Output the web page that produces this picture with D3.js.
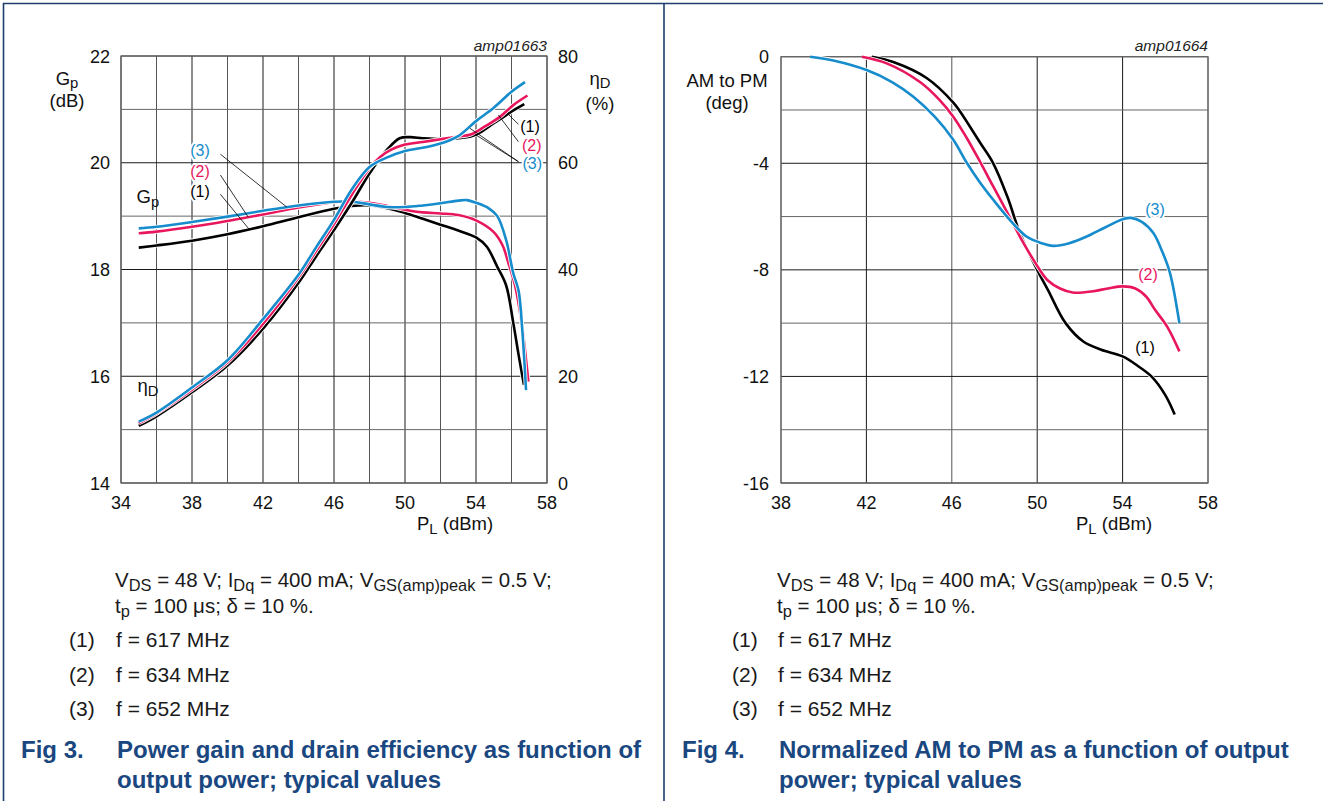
<!DOCTYPE html>
<html>
<head>
<meta charset="utf-8">
<title>Gain, efficiency and AM to PM</title>
<script src="https://d3js.org/d3.v7.min.js"></script>
<style>
  body { margin: 0; background: #fff; }
  svg text { font-family: Arial, "Liberation Sans", sans-serif; }
  .tick { font-size: 18px; fill: #111; }
  .title { font-size: 18.5px; fill: #111; }
  .code { font-size: 15.5px; font-style: italic; fill: #222; }
  .note { font-size: 20.5px; fill: #1a1a1a; }
  .note-f { font-size: 21px; fill: #1a1a1a; }
  .fig { font-size: 24px; font-weight: bold; fill: #1a4780; }
  .lab { font-size: 16px; paint-order: stroke; stroke: #fff; stroke-width: 4px; stroke-linejoin: round; }
  .leader { stroke: #000; stroke-width: 0.8; fill: none; }
</style>
</head>
<body>
<svg width="1323" height="801"></svg>
<script>
// series colours: (1) 617 MHz, (2) 634 MHz, (3) 652 MHz
const colors = ['#000000', '#e8175d', '#168ccc'];

// Fig 3 - power gain Gp (dB) vs PL (dBm)
const gp617 = [[35,18.41],[36,18.45],[38,18.54],[40,18.66],[42,18.81],[44,18.98],[46,19.14],[47,19.19],[48,19.2],[49,19.15],[50,19.06],[51,18.95],[52,18.84],[53,18.73],[54,18.6],[54.6,18.43],[55.2,18.05],[55.7,17.7],[56.1,17.0],[56.4,16.4],[56.7,15.84]];
const gp634 = [[35,18.68],[36,18.71],[38,18.8],[40,18.91],[42,19.03],[44,19.16],[46,19.26],[47,19.28],[48,19.25],[49,19.19],[50,19.12],[51,19.07],[52,19.05],[53,19.02],[54,18.92],[55,18.7],[55.5,18.45],[55.8,18.15],[56.2,17.7],[56.57,17.0],[56.95,15.9]];
const gp652 = [[35,18.77],[36,18.8],[38,18.89],[40,18.99],[42,19.1],[44,19.2],[46,19.27],[47,19.27],[48,19.22],[49,19.17],[50,19.17],[51,19.2],[52,19.24],[53,19.29],[53.5,19.3],[54,19.25],[54.7,19.15],[55.2,19.0],[55.7,18.55],[56.1,17.93],[56.4,17.6],[56.6,16.9],[56.82,15.74]];

// Fig 3 - drain efficiency (%) vs PL (dBm)
const eff617 = [[35,10.7],[36,12.5],[38,17.0],[40,22.0],[42,28.9],[44,37.5],[45,42.5],[46,47.4],[47,52.5],[48,58.0],[49,62.5],[49.7,64.6],[50.3,64.8],[51,64.6],[52,64.45],[53,64.6],[53.7,64.9],[54.3,65.8],[55,67.4],[55.6,68.7],[56.2,70.0],[56.72,71.0]];
const eff634 = [[35,11.2],[36,13.0],[38,17.5],[40,22.6],[42,29.8],[44,38.5],[45,43.5],[46,48.5],[47,54.0],[48,59.0],[48.6,61.1],[49.2,62.4],[50,63.4],[51,63.9],[52,64.4],[53,64.9],[53.7,65.3],[54.5,66.8],[55.35,68.6],[56.1,70.8],[56.9,72.6]];
const eff652 = [[35,11.5],[36,13.2],[38,17.9],[40,23.0],[42,30.7],[44,39.0],[45,44.2],[46,49.3],[47,55.0],[48,59.2],[49,61.0],[50,62.2],[51,62.8],[52,63.6],[53,65.0],[54,67.8],[55,70.3],[56,73.3],[56.76,75.1]];

// Fig 4 - normalized AM to PM (deg) vs PL (dBm)
const am617 = [[42.25,0],[43.26,-0.2],[44.82,-0.8],[46.07,-1.72],[46.38,-2.05],[47.32,-3.22],[47.94,-4.0],[48.6,-5.25],[49.19,-6.62],[50,-8.0],[50.5,-8.75],[51.33,-10.0],[52.16,-10.69],[53,-11.0],[54,-11.25],[54.7,-11.6],[55.35,-12.0],[56.0,-12.7],[56.44,-13.43]];
const am634 = [[41.78,0],[42.95,-0.25],[44.51,-0.95],[45.4,-1.6],[46.07,-2.25],[46.7,-3.05],[47.32,-3.94],[47.94,-4.87],[48.6,-5.85],[49.19,-6.75],[50,-7.85],[50.5,-8.4],[51.07,-8.7],[51.66,-8.85],[52.63,-8.8],[53.3,-8.7],[54,-8.62],[54.6,-8.7],[55.1,-9.0],[55.52,-9.5],[56.1,-10.15],[56.66,-11.06]];
const am652 = [[39.36,0],[40.5,-0.15],[42.01,-0.5],[43.2,-0.95],[44.2,-1.5],[45.2,-2.25],[46.07,-3.12],[46.7,-3.98],[47.32,-4.72],[47.94,-5.37],[48.8,-6.2],[49.5,-6.75],[50.2,-7.0],[50.75,-7.1],[51.5,-7.0],[52.32,-6.75],[53.2,-6.4],[54.0,-6.1],[54.4,-6.05],[54.9,-6.2],[55.44,-6.62],[55.85,-7.3],[56.22,-8.12],[56.66,-10.0]];

// ticks
const plTicks3 = [34, 38, 42, 46, 50, 54, 58];
const gpTicks = [14, 16, 18, 20, 22];
const effTicks = [0, 20, 40, 60, 80];
const plTicks4 = [38, 42, 46, 50, 54, 58];
const amTicks = [-16, -12, -8, -4, 0];

const noteLines = ['f = 617 MHz', 'f = 634 MHz', 'f = 652 MHz'];

const svg = d3.select('svg');

// page frame
svg.append('path')
  .attr('d', 'M3.5,801 V3.5 H1323 M664,3.5 V801')
  .attr('fill', 'none').attr('stroke', '#1c3f6e').attr('stroke-width', 1.6);

// text with subscripts: parts are strings or [sub] arrays
function rich(g, x, y, parts, cls, anchor, subDy) {
  const t = g.append('text').attr('x', x).attr('y', y).attr('class', cls)
    .attr('text-anchor', anchor || 'start');
  let shift = 0;
  parts.forEach(p => {
    const sub = Array.isArray(p);
    const target = sub ? subDy : 0;
    t.append('tspan').attr('dy', target - shift)
      .style('font-size', sub ? '0.8em' : null)
      .text(sub ? p[0] : p);
    shift = target;
  });
  return t;
}

function grid(g, x, y, xs, ys, xMajor, yMajor) {
  const [x0, x1] = x.range(), [y0, y1] = y.range();
  g.selectAll('.vg').data(xs).enter().append('line')
    .attr('x1', d => x(d)).attr('x2', d => x(d)).attr('y1', y0).attr('y2', y1)
    .attr('stroke', d => xMajor.includes(d) ? '#1a1a1a' : '#555').attr('stroke-width', 1);
  g.selectAll('.hg').data(ys).enter().append('line')
    .attr('y1', d => y(d)).attr('y2', d => y(d)).attr('x1', x0).attr('x2', x1)
    .attr('stroke', d => yMajor.includes(d) ? '#1a1a1a' : '#666').attr('stroke-width', 1);
  g.append('rect').attr('x', x0).attr('y', y1).attr('width', x1 - x0).attr('height', y0 - y1)
    .attr('fill', 'none').attr('stroke', '#6a6a6a').attr('stroke-width', 1.2);
}

function curves(g, x, y, series) {
  const line = d3.line().x(d => x(d[0])).y(d => y(d[1])).curve(d3.curveCatmullRom.alpha(0.5));
  series.forEach((s, i) => {
    g.append('path').attr('d', line(s)).attr('fill', 'none')
      .attr('stroke', '#fff').attr('stroke-width', 4.2).attr('stroke-linejoin', 'round');
    g.append('path').attr('d', line(s)).attr('fill', 'none')
      .attr('stroke', colors[i]).attr('stroke-width', 2.6).attr('stroke-linejoin', 'round');
  });
}

// ---------- Fig 3 ----------
const g3 = svg.append('g');
const x3 = d3.scaleLinear().domain([34, 58]).range([121, 547]);
const yG = d3.scaleLinear().domain([14, 22]).range([483, 56]);
const yE = d3.scaleLinear().domain([0, 80]).range([483, 56]);

grid(g3, x3, yG, d3.range(34, 59, 2), d3.range(14, 23, 1), plTicks3, gpTicks);
curves(g3, x3, yG, [gp617, gp634, gp652]);
curves(g3, x3, yE, [eff617, eff634, eff652]);

g3.selectAll('.xt').data(plTicks3).enter().append('text').attr('class', 'tick')
  .attr('x', d => x3(d)).attr('y', 509).attr('text-anchor', 'middle').text(d => d);
g3.selectAll('.yt').data(gpTicks).enter().append('text').attr('class', 'tick')
  .attr('x', 110).attr('y', d => yG(d) + 6.5).attr('text-anchor', 'end').text(d => d);
g3.selectAll('.et').data(effTicks).enter().append('text').attr('class', 'tick')
  .attr('x', 558).attr('y', d => yE(d) + 6.5).text(d => d);

rich(g3, 67, 85, ['G', ['p']], 'title', 'middle', 3);
g3.append('text').attr('class', 'title').attr('x', 67).attr('y', 107).attr('text-anchor', 'middle').text('(dB)');
rich(g3, 600, 85, ['η', ['D']], 'title', 'middle', 3);
g3.append('text').attr('class', 'title').attr('x', 600).attr('y', 110).attr('text-anchor', 'middle').text('(%)');
rich(g3, 417, 529.5, ['P', ['L'], ' (dBm)'], 'title', 'start', 4);
g3.append('text').attr('class', 'code').attr('x', 547).attr('y', 51).attr('text-anchor', 'end').text('amp01663');

// curve names
rich(g3, x3(34.88), yG(19.25), ['G', ['p']], 'title', 'start', 4);
rich(g3, x3(34.93), yE(17.0), ['η', ['D']], 'title', 'start', 4);

// numbered callouts, positions in data units
const gpCallouts = [
  { n: 3, at: [38.45, 20.23], from: [39.6, 20.16], to: [[43.34, 19.17]] },
  { n: 2, at: [38.45, 19.83], from: [39.6, 19.77], to: [[41.17, 18.98]] },
  { n: 1, at: [38.45, 19.47], from: [39.6, 19.41], to: [[41.23, 18.75]] }
];
const effCallouts = [
  { n: 1, at: [57.04, 66.75], from: [56.39, 67.2], to: [[55.82, 69.08]] },
  { n: 2, at: [57.14, 63.2], from: [56.39, 63.94], to: [[55.26, 68.95]] },
  { n: 3, at: [57.17, 59.77], from: [56.39, 60.2], to: [[53.66, 66.45], [53.94, 65.33]] }
];
function callouts(g, x, y, list) {
  list.forEach(c => {
    c.to.forEach(t => {
      g.append('line').attr('class', 'leader')
        .attr('x1', x(c.from[0])).attr('y1', y(c.from[1]))
        .attr('x2', x(t[0])).attr('y2', y(t[1]));
    });
  });
  list.forEach(c => {
    g.append('text').attr('class', 'lab').attr('fill', colors[c.n - 1])
      .attr('x', x(c.at[0])).attr('y', y(c.at[1]) + 5.5).attr('text-anchor', 'middle')
      .text('(' + c.n + ')');
  });
}
callouts(g3, x3, yG, gpCallouts);
callouts(g3, x3, yE, effCallouts);

// ---------- Fig 4 ----------
const g4 = svg.append('g');
const x4 = d3.scaleLinear().domain([38, 58]).range([781, 1208]);
const yA = d3.scaleLinear().domain([-16, 0]).range([483, 56.7]);

grid(g4, x4, yA, d3.range(38, 59, 4), d3.range(-16, 1, 2), [42, 50, 54], amTicks);
curves(g4, x4, yA, [am617, am634, am652]);

g4.selectAll('.xt').data(plTicks4).enter().append('text').attr('class', 'tick')
  .attr('x', d => x4(d)).attr('y', 509).attr('text-anchor', 'middle').text(d => d);
g4.selectAll('.yt').data(amTicks).enter().append('text').attr('class', 'tick')
  .attr('x', 769).attr('y', d => yA(d) + 6.5).attr('text-anchor', 'end').text(d => d);

g4.append('text').attr('class', 'title').attr('x', 727).attr('y', 87).attr('text-anchor', 'middle').text('AM to PM');
g4.append('text').attr('class', 'title').attr('x', 727).attr('y', 109).attr('text-anchor', 'middle').text('(deg)');
rich(g4, 1076, 529.5, ['P', ['L'], ' (dBm)'], 'title', 'start', 4);
g4.append('text').attr('class', 'code').attr('x', 1208).attr('y', 51).attr('text-anchor', 'end').text('amp01664');

const amCallouts = [
  { n: 3, at: [55.52, -5.75], from: null, to: [] },
  { n: 2, at: [55.19, -8.19], from: null, to: [] },
  { n: 1, at: [55.05, -10.92], from: null, to: [] }
];
callouts(g4, x4, yA, amCallouts);

// ---------- notes and captions ----------
function notes(x0, xNum, xFig, fig, title) {
  const g = svg.append('g');
  rich(g, x0, 587, ['V', ['DS'], ' = 48 V; I', ['Dq'], ' = 400 mA; V', ['GS(amp)peak'], ' = 0.5 V;'], 'note', 'start', 4);
  rich(g, x0, 613, ['t', ['p'], ' = 100 μs; δ = 10 %.'], 'note', 'start', 4);
  noteLines.forEach((s, i) => {
    const y = 647 + i * 34.5;
    g.append('text').attr('class', 'note-f').attr('x', xNum).attr('y', y).text('(' + (i + 1) + ')');
    g.append('text').attr('class', 'note-f').attr('x', x0 + 1).attr('y', y).text(s);
  });
  g.append('text').attr('class', 'fig').attr('x', xFig).attr('y', 758).text(fig);
  title.forEach((s, i) => {
    g.append('text').attr('class', 'fig').attr('x', x0 + 2).attr('y', 758 + i * 30).text(s);
  });
}
notes(115, 69, 21, 'Fig 3.', ['Power gain and drain efficiency as function of', 'output power; typical values']);
notes(777, 732, 682, 'Fig 4.', ['Normalized AM to PM as a function of output', 'power; typical values']);
</script>
</body>
</html>
